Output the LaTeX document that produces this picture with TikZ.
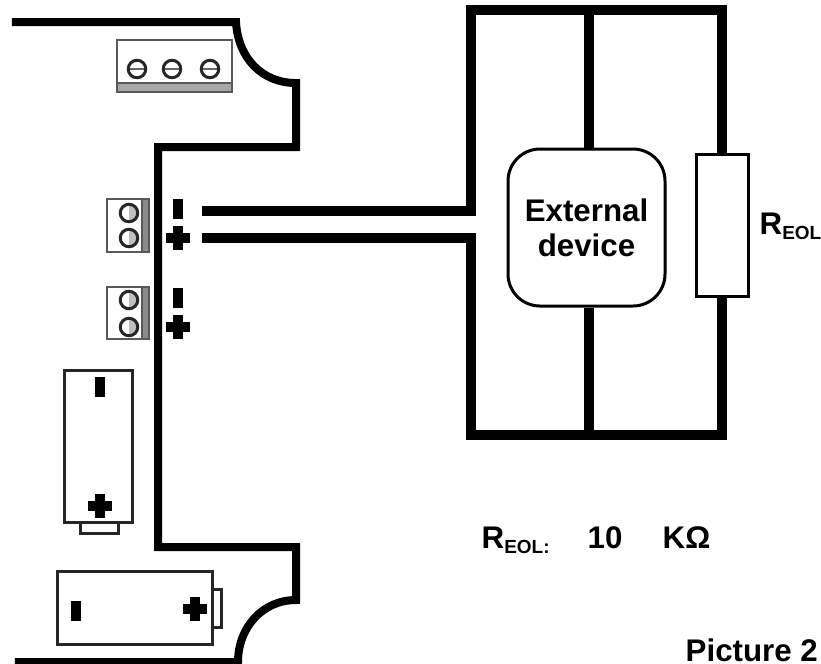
\documentclass[tikz,border=0pt]{standalone}
\usepackage{fontspec}
\setmainfont{Liberation Sans}

\tikzset{
	board/.style={line width=0.8mm, line join=miter},
	wire/.style={line width=1mm},
	thinbox/.style={draw, rectangle, line width=0.3mm, inner sep=0pt},
	batterybox/.style={draw=black!85, line width=0.3mm},
	blockbox/.style={draw=black!65, line width=0.25mm},
	strip/.style={fill=black!45, draw=black!65, line width=0.2mm},
	screwh/.style={circle, draw=black!85, line width=0.3mm, inner sep=0pt, minimum size=1.75mm,
		path picture={\draw[black!60, line width=0.2mm] (path picture bounding box.west) -- (path picture bounding box.east);}},
	screwv/.style={circle, draw=black!85, line width=0.3mm, inner sep=0pt, minimum size=1.75mm,
		path picture={\fill[black!25] (path picture bounding box.north) rectangle (path picture bounding box.south east);}},
	minusmark/.style={rectangle, fill, inner sep=0pt, minimum width=0.95mm, minimum height=2mm},
	plusmark/.style={rectangle, inner sep=0pt, minimum size=2.4mm,
		path picture={\fill (path picture bounding box.center) ++(-1.2mm,-0.5mm) rectangle ++(2.4mm,1mm);
			\fill (path picture bounding box.center) ++(-0.5mm,-1.2mm) rectangle ++(1mm,2.4mm);}},
	label text/.style={font=\fontsize{8.9}{10}\selectfont\bfseries},
}
\newcommand{\eolsub}[1]{\raisebox{-0.5mm}{\fontsize{5.4}{7}\selectfont\bfseries #1}}

\begin{document}
\begin{tikzpicture}[x=1cm, y=-1cm]
	\useasboundingbox (0,0) rectangle (8.21,6.63);

	\begin{scope}
		% board outline
		\draw[board] (0.12,0.22) -- (2.36,0.22) .. controls (2.38,0.58) and (2.62,0.83) .. (2.96,0.83) -- (2.96,1.47) -- (1.58,1.47) -- (1.58,5.47) -- (2.96,5.47) -- (2.96,6.0) .. controls (2.62,6.0) and (2.38,6.28) .. (2.38,6.62) -- (0.15,6.62);

		% top connector
		\draw[blockbox] (1.17,0.40) rectangle (2.32,0.92);
		\draw[strip, fill=black!35] (1.17,0.83) rectangle (2.32,0.92);
		\node[screwh] (screwa) at (1.37,0.69) {};
		\node[screwh] (screwb) at (1.72,0.69) {};
		\node[screwh] (screwc) at (2.10,0.69) {};

		% left connectors
		\draw[blockbox] (1.07,1.99) rectangle (1.49,2.52);
		\draw[strip] (1.42,1.99) rectangle (1.49,2.52);
		\node[screwv] (screwd) at (1.29,2.13) {};
		\node[screwv] (screwe) at (1.29,2.38) {};
		\draw[blockbox] (1.07,2.87) rectangle (1.49,3.39);
		\draw[strip] (1.42,2.87) rectangle (1.49,3.39);
		\node[screwv] (screwf) at (1.29,3.00) {};
		\node[screwv] (screwg) at (1.29,3.27) {};

		\node[minusmark] (minusa) at (1.78,2.09) {};
		\node[plusmark] (plusa) at (1.78,2.38) {};
		\node[minusmark] (minusb) at (1.78,2.98) {};
		\node[plusmark] (plusb) at (1.78,3.27) {};

		% batteries
		\draw[batterybox] (0.64,3.70) rectangle (1.32,5.22);
		\draw[batterybox] (0.80,5.22) rectangle (1.18,5.33);
		\node[minusmark] (minusc) at (1.00,3.87) {};
		\node[plusmark] (plusc) at (1.00,5.06) {};

		\draw[batterybox] (0.57,5.71) rectangle (2.12,6.44);
		\draw[batterybox] (2.12,5.89) rectangle (2.21,6.27);
		\node[minusmark] (minusd) at (0.76,6.11) {};
		\node[plusmark] (plusd) at (1.95,6.09) {};

		% external device and resistor
		\node[thinbox, rounded corners=3.2mm, minimum width=15.7mm, minimum height=15.7mm, align=center, label text] (device) at (5.865,2.275) {External\\device};
		\node[thinbox, minimum width=5.2mm, minimum height=14.2mm] (reol) at (7.22,2.25) {};

		\coordinate (wireaend) at (2.02,2.11);
		\coordinate (wirebend) at (2.02,2.38);
		\coordinate (cornerab) at (4.71,2.11);
		\coordinate (cornerbb) at (4.71,2.38);
		\coordinate (toptap) at (5.89,0.10);
		\coordinate (bottap) at (5.89,4.35);

		\draw[wire] (wireaend) -- (cornerab) |- (toptap) -| (reol.north); % frame top
		\draw[wire] (wirebend) -- (cornerbb) |- (bottap) -| (reol.south); % frame bottom
		\draw[wire] (toptap) -- (toptap |- device.north);
		\draw[wire] (bottap) -- (bottap |- device.south);

		% labels
		\node[label text, anchor=base west, inner sep=0pt] (reollabel) at (7.59,2.34) {R\eolsub{EOL}};
		\node[label text, anchor=base west, inner sep=0pt] (reolvalue) at (4.81,5.48) {R\eolsub{EOL:}};
		\node[label text, anchor=base west, inner sep=0pt] (tenlabel) at (5.87,5.48) {10};
		\node[label text, anchor=base west, inner sep=0pt] (ohmlabel) at (6.62,5.48) {KΩ};
		\node[label text, anchor=base west, inner sep=0pt] (captionlabel) at (6.85,6.61) {Picture 2};
	\end{scope}
\end{tikzpicture}
\end{document}
